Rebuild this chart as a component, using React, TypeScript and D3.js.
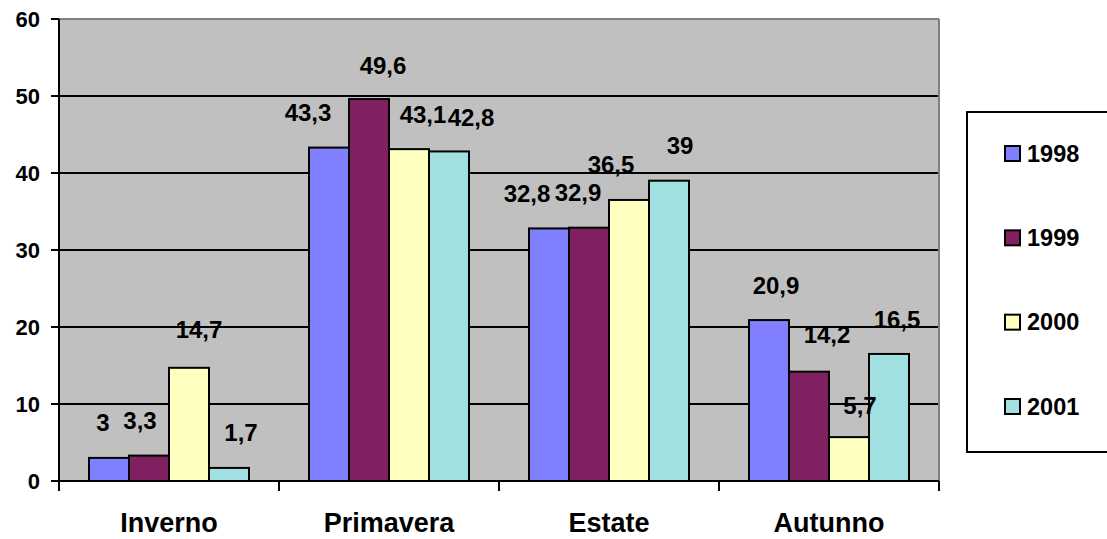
import React from "react";
import * as d3 from "d3";

// Seasonal values per year
const seasons = ["Inverno", "Primavera", "Estate", "Autunno"];
const years = ["1998", "1999", "2000", "2001"];
const values1998 = [3, 43.3, 32.8, 20.9];
const values1999 = [3.3, 49.6, 32.9, 14.2];
const values2000 = [14.7, 43.1, 36.5, 5.7];
const values2001 = [1.7, 42.8, 39, 16.5];
const yTicks = [0, 10, 20, 30, 40, 50, 60];

const seriesValues = [values1998, values1999, values2000, values2001];
const colors = ["#8080FF", "#802060", "#FFFFC0", "#A0E0E0"];

const FONT = "'Liberation Sans', Arial, Helvetica, sans-serif";

export default function App() {
  const W = 1107;
  const H = 539;
  const left = 59;
  const right = 939;
  const top = 19;
  const bottom = 481;

  const x = d3.scaleBand<string>().domain(seasons).range([left, right]).padding(0);
  const inner = d3
    .scaleBand<string>()
    .domain(years)
    .range([30, x.bandwidth() - 30])
    .padding(0);
  const y = d3.scaleLinear().domain([0, 60]).range([bottom, top]);

  // label nudges [dx, dy] relative to bar centre / top, by season then year
  const nudge: [number, number][][] = [
    [[-6, -35], [-9, -35], [10, -38], [12, -35]],
    [[-21, -35], [14, -34], [14, -35], [22, -34]],
    [[-22, -35], [-11, -35], [-18, -35], [11, -35]],
    [[7, -35], [18, -37], [11, -32], [8, -34]],
  ];

  const legendY = d3.scalePoint<string>().domain(years).range([153, 406]);

  return (
    <svg
      width={W}
      height={H}
      style={{ position: "fixed", left: 0, top: 0, background: "#fff" }}
      fontFamily={FONT}
      fontWeight="bold"
    >
      {/* plot background */}
      <rect x={left} y={top} width={right - left} height={bottom - top} fill="#C0C0C0" />
      {/* gridlines */}
      {yTicks.slice(1, -1).map((t) => (
        <line key={t} x1={left} x2={right} y1={y(t)} y2={y(t)} stroke="#000" strokeWidth={2} />
      ))}
      {/* top and right frame */}
      <line x1={left} x2={right} y1={top} y2={top} stroke="#808080" strokeWidth={2} />
      <line x1={right} x2={right} y1={top} y2={bottom} stroke="#808080" strokeWidth={2} />

      {/* bars */}
      {seasons.map((s, si) =>
        years.map((yr, yi) => {
          const v = seriesValues[yi][si];
          const bx = (x(s) as number) + (inner(yr) as number);
          return (
            <rect
              key={s + yr}
              x={bx}
              y={y(v)}
              width={inner.bandwidth()}
              height={bottom - y(v)}
              fill={colors[yi]}
              stroke="#000"
              strokeWidth={2}
            />
          );
        })
      )}

      {/* axes */}
      <line x1={left} x2={left} y1={top} y2={bottom} stroke="#000" strokeWidth={2} />
      <line x1={left} x2={right} y1={bottom} y2={bottom} stroke="#000" strokeWidth={2} />
      {yTicks.map((t) => (
        <g key={t}>
          <line x1={left - 8} x2={left} y1={y(t)} y2={y(t)} stroke="#000" strokeWidth={2} />
          <text x={40} y={y(t) + 7.5} textAnchor="end" fontSize={22} fill="#000">
            {t}
          </text>
        </g>
      ))}
      {[...seasons.map((s) => x(s) as number), right].map((px, i) => (
        <line key={i} x1={px} x2={px} y1={bottom} y2={bottom + 10} stroke="#000" strokeWidth={2} />
      ))}
      {seasons.map((s) => (
        <text
          key={s}
          x={(x(s) as number) + x.bandwidth() / 2}
          y={532}
          textAnchor="middle"
          fontSize={27}
          fill="#000"
        >
          {s}
        </text>
      ))}

      {/* value labels */}
      {seasons.map((s, si) =>
        years.map((yr, yi) => {
          const v = seriesValues[yi][si];
          const cx = (x(s) as number) + (inner(yr) as number) + inner.bandwidth() / 2;
          const [dx, dy] = nudge[si][yi];
          return (
            <text
              key={"l" + s + yr}
              x={cx + dx}
              y={y(v) + dy + 8.5}
              textAnchor="middle"
              fontSize={24}
              fill="#000"
            >
              {String(v).replace(".", ",")}
            </text>
          );
        })
      )}

      {/* legend */}
      <rect x={967} y={112} width={160} height={340} fill="#fff" stroke="#000" strokeWidth={2} />
      {years.map((yr, yi) => {
        const cy = legendY(yr) as number;
        return (
          <g key={"lg" + yr}>
            <rect x={1005} y={cy - 7} width={15} height={15} fill={colors[yi]} stroke="#000" strokeWidth={2} />
            <text x={1027} y={cy + 8.5} fontSize={23.5} fill="#000">
              {yr}
            </text>
          </g>
        );
      })}
    </svg>
  );
}
